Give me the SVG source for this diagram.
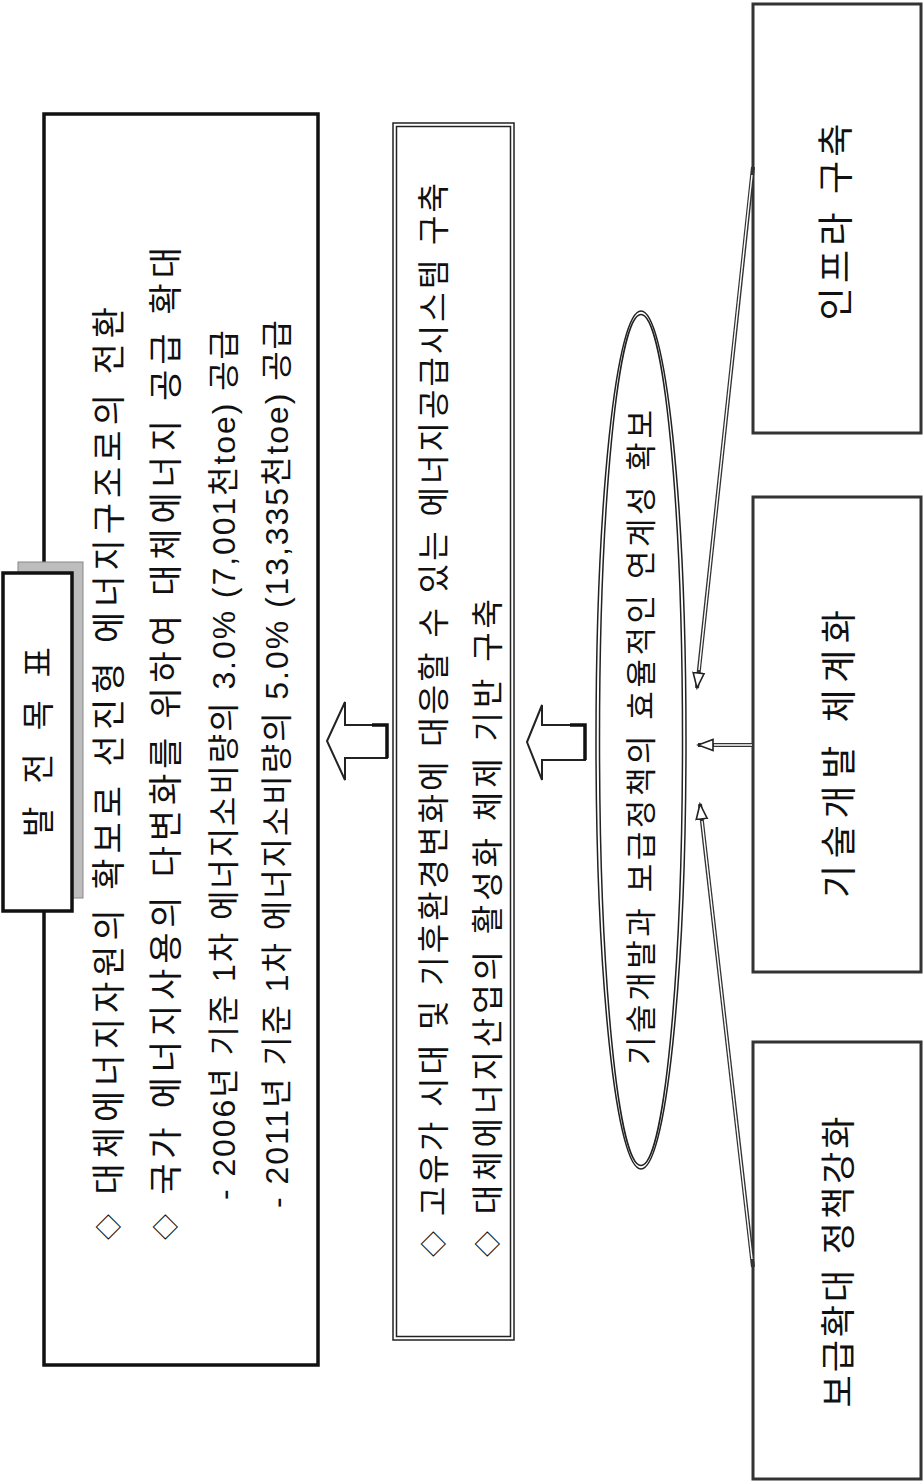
<svg xmlns="http://www.w3.org/2000/svg" width="924" height="1482" viewBox="0 0 924 1482">
<defs>
<style>
.t{font-family:'Liberation Sans','Noto Sans CJK KR',sans-serif;fill:#111;dominant-baseline:central}
.d{font-size:26px}
.box{fill:#fff;stroke:#111;stroke-width:3.5}
.rbox{fill:#fff;stroke:#333;stroke-width:3}
.dbl{fill:none;stroke:#222;stroke-width:1.5}
.barrow{fill:#fff;stroke:#222;stroke-width:2;stroke-linejoin:miter}
.c-out{stroke:#333;stroke-width:4;fill:none}
.c-in{stroke:#fff;stroke-width:1.4;fill:none}
</style>
<marker id="ah" markerUnits="userSpaceOnUse" markerWidth="18" markerHeight="14" refX="16" refY="7" orient="auto">
<path d="M1,1.5 L16,7 L1,12.5 Z" fill="#fff" stroke="#222" stroke-width="1.6"/>
</marker>
</defs>
<rect width="924" height="1482" fill="#fff"/>

<g id="goal-box">
<rect class="box" x="44" y="114" width="274" height="1251"/>
<text class="t" font-size="34" transform="translate(109,1240) rotate(-90)" textLength="933" lengthAdjust="spacing"><tspan class="d">◇</tspan> 대체에너지자원의 확보로 선진형 에너지구조로의 전환</text>
<text class="t" font-size="34" transform="translate(166,1240) rotate(-90)" textLength="993" lengthAdjust="spacing"><tspan class="d">◇</tspan> 국가 에너지사용의 다변화를 위하여 대체에너지 공급 확대</text>
<text class="t" font-size="32" transform="translate(224,1200) rotate(-90)" textLength="870" lengthAdjust="spacing">- 2006년 기준 1차 에너지소비량의 3.0% (7,001천toe) 공급</text>
<text class="t" font-size="32" transform="translate(277,1208) rotate(-90)" textLength="888" lengthAdjust="spacing">- 2011년 기준 1차 에너지소비량의 5.0% (13,335천toe) 공급</text>
</g>

<g id="title">
<rect x="18" y="562" width="65" height="336" fill="#bdbdbd" stroke="#888" stroke-width="1"/>
<rect class="box" x="3" y="573" width="69" height="338"/>
<text class="t" font-size="33" text-anchor="middle" transform="translate(38,742) rotate(-90)" textLength="190" lengthAdjust="spacing">발 전 목 표</text>
</g>

<g id="middle-box">
<rect class="dbl" x="393" y="123" width="121" height="1217"/>
<rect class="dbl" x="396.5" y="126.5" width="114" height="1210"/>
<text class="t" font-size="32" transform="translate(434,1257) rotate(-90)" textLength="1074" lengthAdjust="spacing"><tspan class="d">◇</tspan> 고유가 시대 및 기후환경변화에 대응할 수 있는 에너지공급시스템 구축</text>
<text class="t" font-size="32" transform="translate(488,1257) rotate(-90)" textLength="658" lengthAdjust="spacing"><tspan class="d">◇</tspan> 대체에너지산업의 활성화 체제 기반 구축</text>
</g>

<g id="link-ellipse">
<ellipse class="dbl" cx="641" cy="740" rx="45" ry="429"/>
<ellipse class="dbl" cx="641" cy="740" rx="41.5" ry="425.5"/>
<text class="t" font-size="31" transform="translate(641,1065) rotate(-90)" textLength="655" lengthAdjust="spacing">기술개발과 보급정책의 효율적인 연계성 확보</text>
</g>

<g id="infra">
<rect class="rbox" x="753" y="4" width="168" height="429"/>
<text class="t" font-size="36" text-anchor="middle" transform="translate(836,222) rotate(-90)" textLength="197" lengthAdjust="spacing">인프라 구축</text>
</g>

<g id="tech">
<rect class="rbox" x="753" y="497" width="168" height="475"/>
<text class="t" font-size="36" text-anchor="middle" transform="translate(839,754) rotate(-90)" textLength="288" lengthAdjust="spacing">기술개발 체계화</text>
</g>

<g id="policy">
<rect class="rbox" x="753" y="1042" width="168" height="437"/>
<text class="t" font-size="35" text-anchor="middle" transform="translate(838,1262) rotate(-90)" textLength="291" lengthAdjust="spacing">보급확대 정책강화</text>
</g>

<g id="connectors">
<polygon class="barrow" points="327,741 345,702 345,725 387,725 387,758 345,758 345,780"/>
<polyline points="372,725 387,725 387,758" fill="none" stroke="#111" stroke-width="3.5"/>
<polygon class="barrow" points="527,742 542,705 542,725 585,725 585,760 542,760 542,780"/>
<polyline points="570,725 585,725 585,760" fill="none" stroke="#111" stroke-width="3.5"/>

<path class="c-out" d="M753,167 L697,688" marker-end="url(#ah)"/>
<path class="c-in" d="M752,175 L699,670"/>
<path class="c-out" d="M753,745 L698,745" marker-end="url(#ah)"/>
<path class="c-in" d="M752,745 L714,745"/>
<path class="c-out" d="M753,1267 L700,804" marker-end="url(#ah)"/>
<path class="c-in" d="M752,1259 L702,821"/>
</g>
</svg>
